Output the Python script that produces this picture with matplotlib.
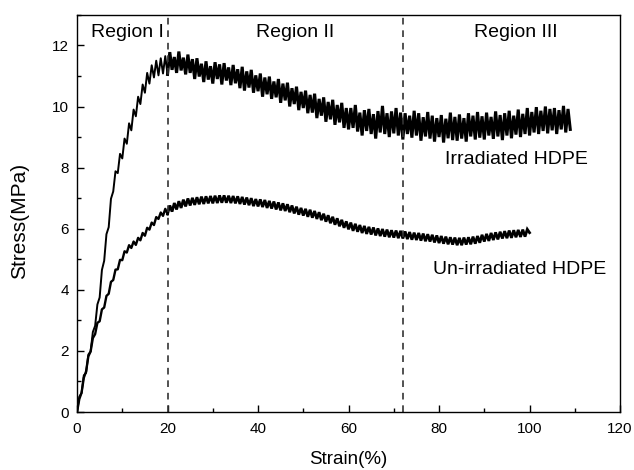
import numpy as np
import matplotlib
matplotlib.use('Agg')
import matplotlib.pyplot as plt
from matplotlib.ticker import MultipleLocator

plt.rcParams['font.family'] = ['Liberation Sans', 'DejaVu Sans']

strain_irr = np.arange(0, 109.01, 0.5)
strain_un = np.arange(0, 100.01, 0.5)

stress_irr = [
    0.00, 0.50, 0.62, 1.20, 1.28, 1.88, 1.98, 2.62, 2.82, 3.52,
    3.75, 4.65, 4.95, 5.82, 6.05, 6.98, 7.22, 7.88, 7.82, 8.45,
    8.30, 8.95, 8.78, 9.45, 9.22, 9.90, 9.68, 10.32, 10.08, 10.72,
    10.45, 11.10, 10.75, 11.35, 10.95, 11.50, 11.02, 11.58, 11.08, 11.65,
    11.05, 11.78, 11.20, 11.62, 11.10, 11.80, 11.18, 11.60, 11.05, 11.70,
    11.10, 11.55, 10.90, 11.58, 10.98, 11.40, 10.80, 11.48, 10.88, 11.32,
    10.75, 11.45, 10.90, 11.38, 10.72, 11.42, 10.85, 11.28, 10.70, 11.36,
    10.76, 11.22, 10.60, 11.30, 10.52, 11.15, 10.62, 11.20, 10.45, 11.02,
    10.50, 11.08, 10.32, 10.95, 10.40, 10.98, 10.25, 10.82, 10.30, 10.90,
    10.12, 10.75, 10.20, 10.78, 10.00, 10.60, 10.08, 10.65, 9.88, 10.48,
    9.95, 10.52, 9.78, 10.38, 9.80, 10.42, 9.62, 10.25, 9.70, 10.30,
    9.50, 10.15, 9.58, 10.22, 9.40, 10.05, 9.48, 10.12, 9.30, 9.95,
    9.25, 9.95, 9.30, 10.05, 9.18, 9.80, 9.05, 9.88, 9.20, 9.92,
    9.10, 9.75, 8.95, 9.85, 9.15, 10.02, 9.10, 9.78, 9.00, 9.84,
    9.12, 9.95, 9.05, 9.80, 8.92, 9.78, 9.10, 9.70, 8.98, 9.86,
    9.05, 9.78, 8.88, 9.65, 9.02, 9.82, 8.95, 9.70, 8.85, 9.62,
    9.00, 9.72, 8.82, 9.60, 8.96, 9.80, 8.90, 9.66, 8.88, 9.74,
    8.95, 9.62, 8.85, 9.78, 9.02, 9.70, 8.92, 9.82, 8.98, 9.68,
    8.92, 9.80, 9.05, 9.66, 8.94, 9.84, 9.02, 9.72, 8.90, 9.78,
    9.05, 9.86, 8.96, 9.70, 9.08, 9.90, 9.00, 9.76, 9.10, 9.95,
    9.05, 9.82, 9.15, 9.98, 9.10, 9.86, 9.20, 10.00, 9.12, 9.92,
    9.22, 9.95, 9.10, 9.88, 9.25, 10.02, 9.15, 9.92, 9.25,
]

# un-irradiated HDPE stress (MPa)
stress_un = [
    0.00, 0.42, 0.63, 1.12, 1.33, 1.82, 1.98, 2.42, 2.55, 2.92,
    2.97, 3.36, 3.42, 3.80, 3.87, 4.26, 4.32, 4.66, 4.67, 4.98,
    4.97, 5.26, 5.22, 5.46, 5.37, 5.58, 5.47, 5.70, 5.62, 5.86,
    5.77, 6.03, 5.97, 6.20, 6.12, 6.38, 6.32, 6.53, 6.42, 6.65,
    6.48, 6.76, 6.56, 6.84, 6.63, 6.90, 6.68, 6.95, 6.73, 6.99,
    6.76, 7.01, 6.78, 7.03, 6.80, 7.05, 6.81, 7.06, 6.83, 7.07,
    6.83, 7.08, 6.84, 7.09, 6.85, 7.09, 6.85, 7.08, 6.84, 7.07,
    6.83, 7.06, 6.81, 7.04, 6.79, 7.02, 6.77, 7.00, 6.74, 6.97,
    6.73, 6.96, 6.71, 6.94, 6.68, 6.91, 6.66, 6.89, 6.63, 6.86,
    6.60, 6.83, 6.58, 6.80, 6.54, 6.76, 6.50, 6.72, 6.46, 6.68,
    6.43, 6.65, 6.39, 6.62, 6.36, 6.58, 6.32, 6.54, 6.28, 6.49,
    6.23, 6.44, 6.18, 6.39, 6.13, 6.34, 6.08, 6.29, 6.03, 6.24,
    5.98, 6.20, 5.93, 6.16, 5.90, 6.12, 5.86, 6.09, 5.83, 6.06,
    5.81, 6.04, 5.78, 6.01, 5.76, 5.99, 5.74, 5.97, 5.72, 5.95,
    5.71, 5.94, 5.69, 5.93, 5.68, 5.91, 5.66, 5.89, 5.64, 5.87,
    5.63, 5.86, 5.61, 5.84, 5.59, 5.82, 5.58, 5.80, 5.55, 5.78,
    5.53, 5.76, 5.51, 5.74, 5.49, 5.72, 5.48, 5.71, 5.46, 5.70,
    5.46, 5.71, 5.48, 5.72, 5.49, 5.74, 5.51, 5.76, 5.54, 5.80,
    5.58, 5.83, 5.60, 5.86, 5.63, 5.88, 5.65, 5.90, 5.68, 5.92,
    5.69, 5.94, 5.70, 5.95, 5.72, 5.96, 5.73, 5.97, 5.74, 5.98,
    5.87,
]

region_bounds = [20, 72]
region_names = ['Region I', 'Region II', 'Region III']
region_x = [11.2, 48.2, 97]
curve_names = ['Irradiated HDPE', 'Un-irradiated HDPE']
curve_label_pos = [(97, 8.26), (97.9, 4.66)]

fig = plt.figure(figsize=(6.34, 4.70), dpi=100)
ax = fig.add_axes([0.1215, 0.1234, 0.8565, 0.845])

# the loading part (first 20 % strain) is drawn thinner, the noisy band thicker
k = 41
ax.plot(strain_irr[:k], stress_irr[:k], color='black', lw=1.4)
ax.plot(strain_irr[k - 1:], stress_irr[k - 1:], color='black', lw=2.2,
        solid_joinstyle='miter')
ax.plot(strain_un[:k], stress_un[:k], color='black', lw=1.7)
ax.plot(strain_un[k - 1:], stress_un[k - 1:], color='black', lw=2.0,
        solid_joinstyle='miter')

for b in region_bounds:
    ax.axvline(b, color='#333333', lw=1.2, ls=(0, (4, 3.5)))

for name, xr in zip(region_names, region_x):
    ax.text(xr, 12.43, name, ha='center', va='center', fontsize=14)

for name, (xt, yt) in zip(curve_names, curve_label_pos):
    ax.text(xt, yt, name, ha='center', va='center', fontsize=14)

ax.set_xlim(0, 120)
ax.set_ylim(0, 13)
ax.xaxis.set_major_locator(MultipleLocator(20))
ax.xaxis.set_minor_locator(MultipleLocator(10))
ax.yaxis.set_major_locator(MultipleLocator(2))
ax.yaxis.set_minor_locator(MultipleLocator(1))
ax.tick_params(which='both', direction='in', labelsize=11, width=1)
ax.tick_params(which='major', length=5)
ax.tick_params(which='minor', length=3)
ax.tick_params(axis='x', pad=7)
ax.tick_params(axis='y', pad=6)
for s in ax.spines.values():
    s.set_linewidth(1.0)

ax.set_xlabel('Strain(%)', fontsize=13.5, labelpad=11)
ax.set_ylabel('Stress(MPa)', fontsize=15)
ax.yaxis.set_label_coords(-0.088, 0.48)

plt.savefig('out.png', dpi=100)
